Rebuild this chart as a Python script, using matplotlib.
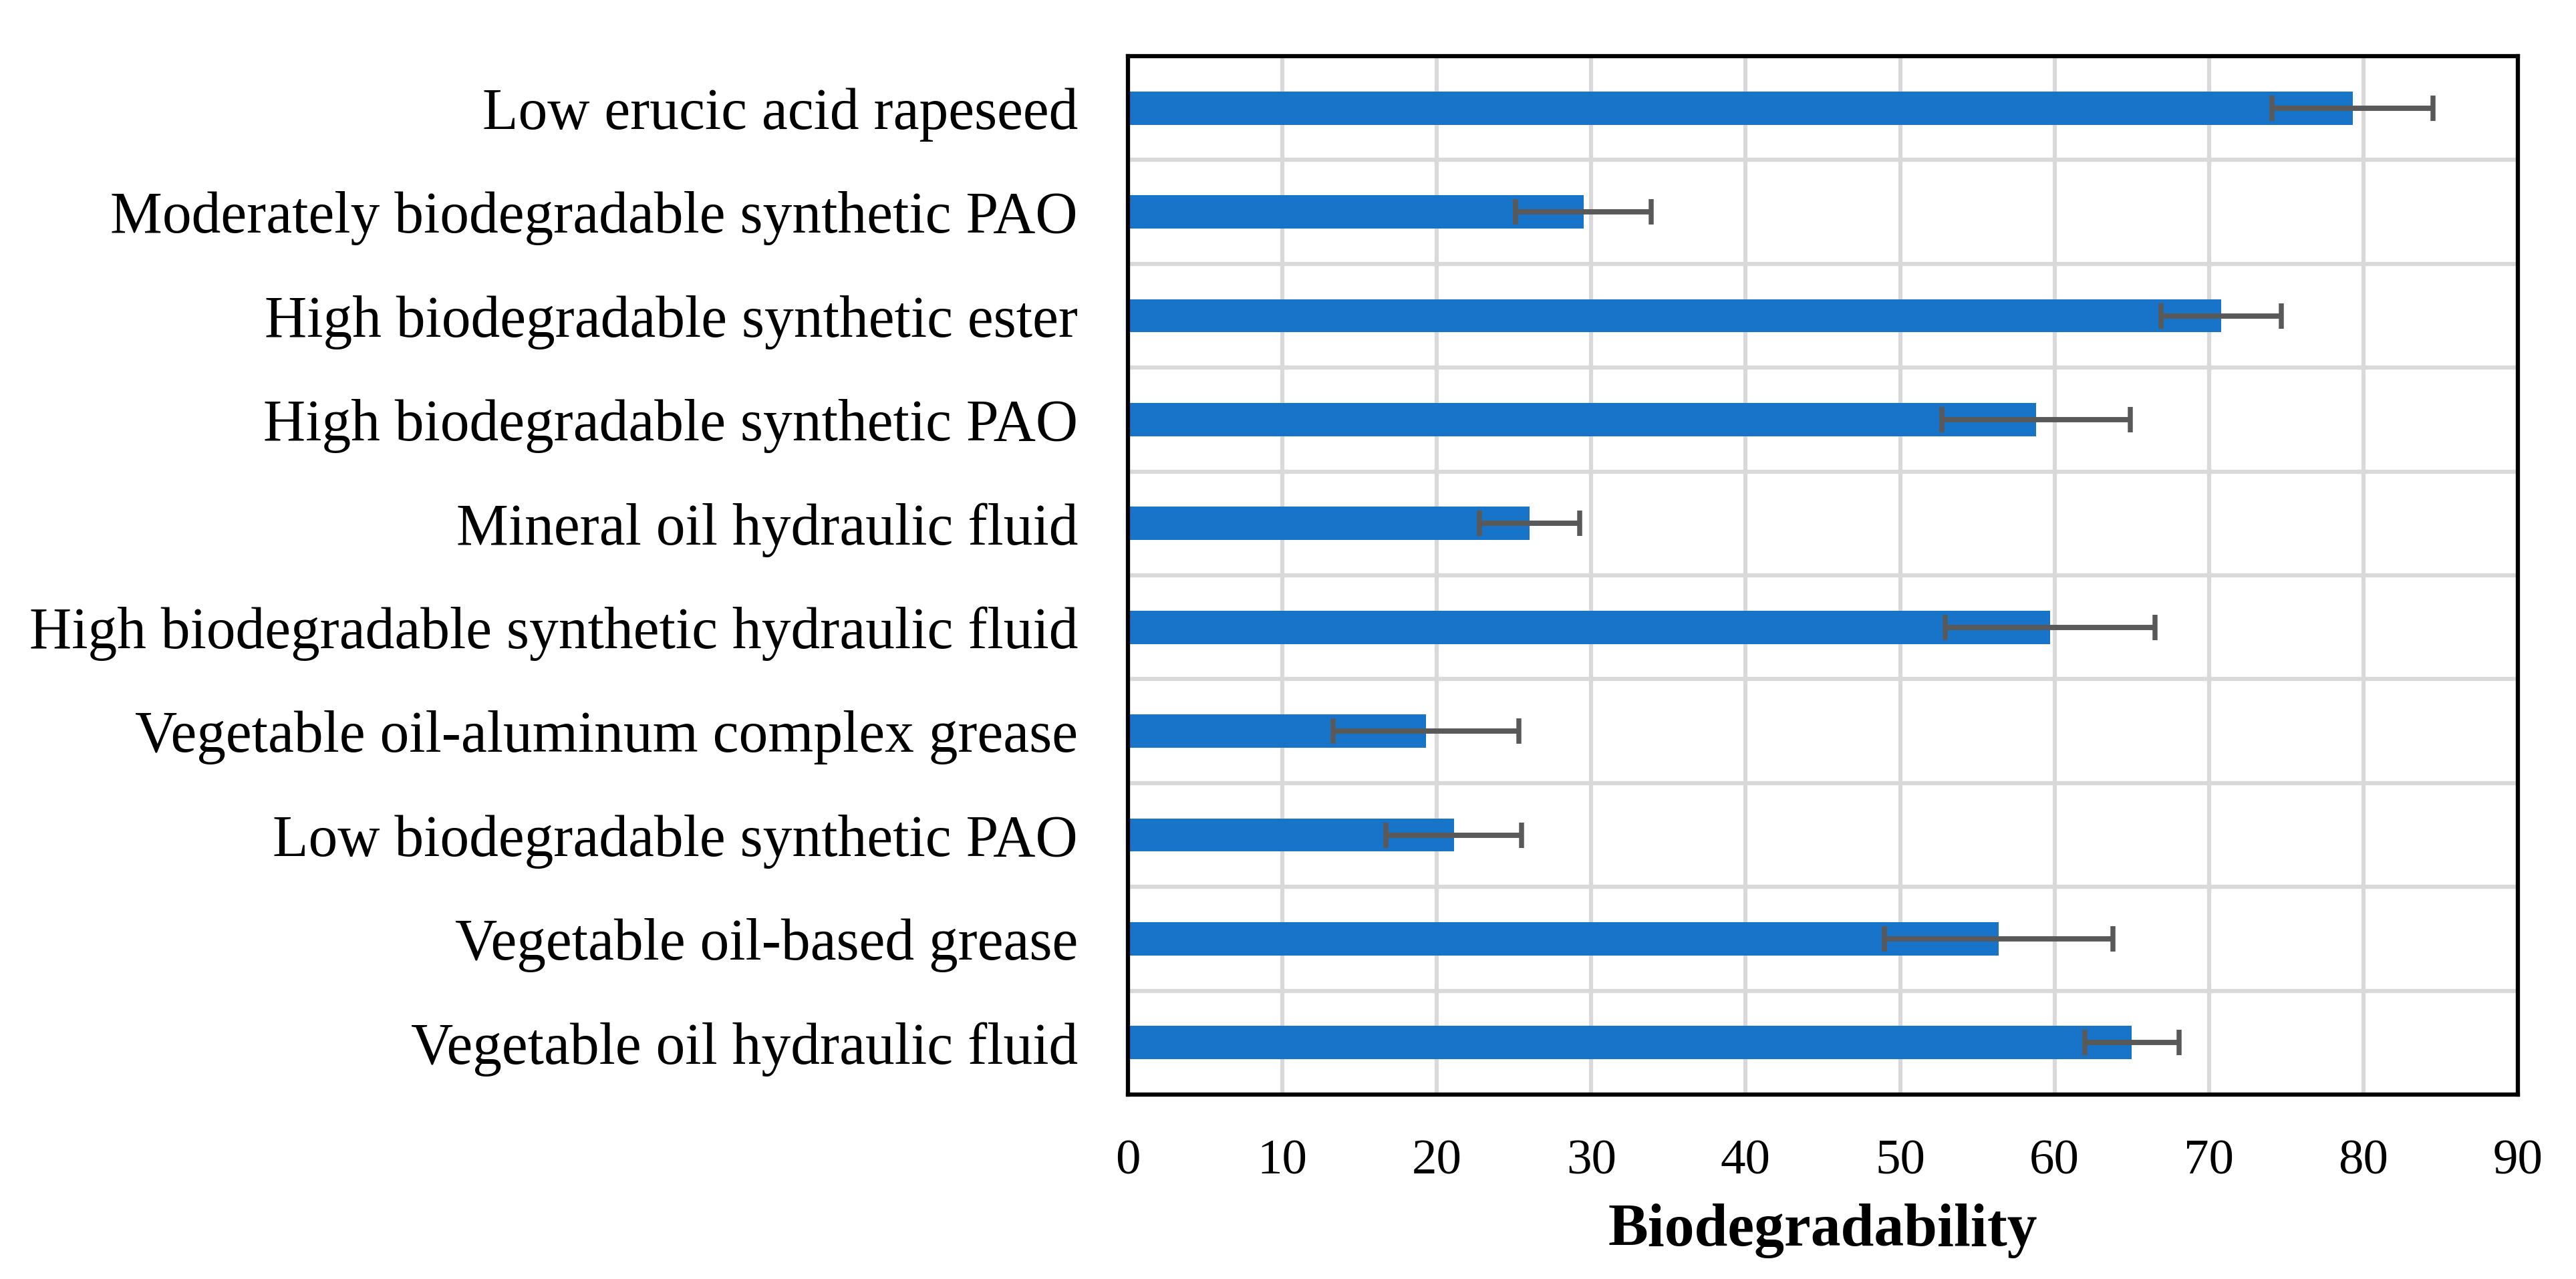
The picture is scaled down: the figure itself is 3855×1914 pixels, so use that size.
import matplotlib
matplotlib.use('Agg')
import matplotlib.pyplot as plt
import numpy as np

# --- data (top to bottom as drawn) ---
categories = [
    'Low erucic acid rapeseed',
    'Moderately biodegradable synthetic PAO',
    'High biodegradable synthetic ester',
    'High biodegradable synthetic PAO',
    'Mineral oil hydraulic fluid',
    'High biodegradable synthetic hydraulic fluid',
    'Vegetable oil-aluminum complex grease',
    'Low biodegradable synthetic PAO',
    'Vegetable oil-based grease',
    'Vegetable oil hydraulic fluid',
]
values = [79.3, 29.5, 70.8, 58.8, 26.0, 59.7, 19.3, 21.1, 56.4, 65.0]
errors = [5.2, 4.4, 3.9, 6.1, 3.25, 6.8, 6.0, 4.4, 7.4, 3.05]
xticks = [0, 10, 20, 30, 40, 50, 60, 70, 80, 90]

BLUE = '#1874C9'
ERR = '#595959'
GRID = '#D9D9D9'

plt.rcParams['font.family'] = ['Liberation Serif', 'DejaVu Serif']

fig = plt.figure(figsize=(12.85, 6.38), dpi=300)
ax = fig.add_axes([0.4379, 0.1442, 0.9774 - 0.4379, 0.9561 - 0.1442])

y = np.arange(len(categories))
ax.barh(y, values, height=0.32, color=BLUE, zorder=3,
        xerr=errors, error_kw=dict(ecolor=ERR, elinewidth=1.9, capsize=4.6,
                                   capthick=1.8, zorder=4))

ax.set_xlim(0, 90)
ax.set_ylim(len(categories) - 0.5, -0.5)
ax.set_xticks(xticks)
ax.set_yticks(y)
ax.set_yticklabels(categories, fontsize=21)
ax.set_yticks(np.arange(len(categories) + 1) - 0.5, minor=True)
ax.tick_params(axis='x', labelsize=18, length=0, pad=16)
ax.tick_params(axis='y', which='both', length=0, pad=18)

ax.grid(axis='x', which='major', color=GRID, linewidth=1.5, zorder=0)
ax.grid(axis='y', which='minor', color=GRID, linewidth=1.5, zorder=0)
ax.set_axisbelow(True)

for s in ax.spines.values():
    s.set_linewidth(1.5)
    s.set_color('black')
    s.set_zorder(5)

ax.set_xlabel('Biodegradability', fontsize=21.5, fontweight='bold', labelpad=7)

fig.savefig('out.png', dpi=300, facecolor='white')
